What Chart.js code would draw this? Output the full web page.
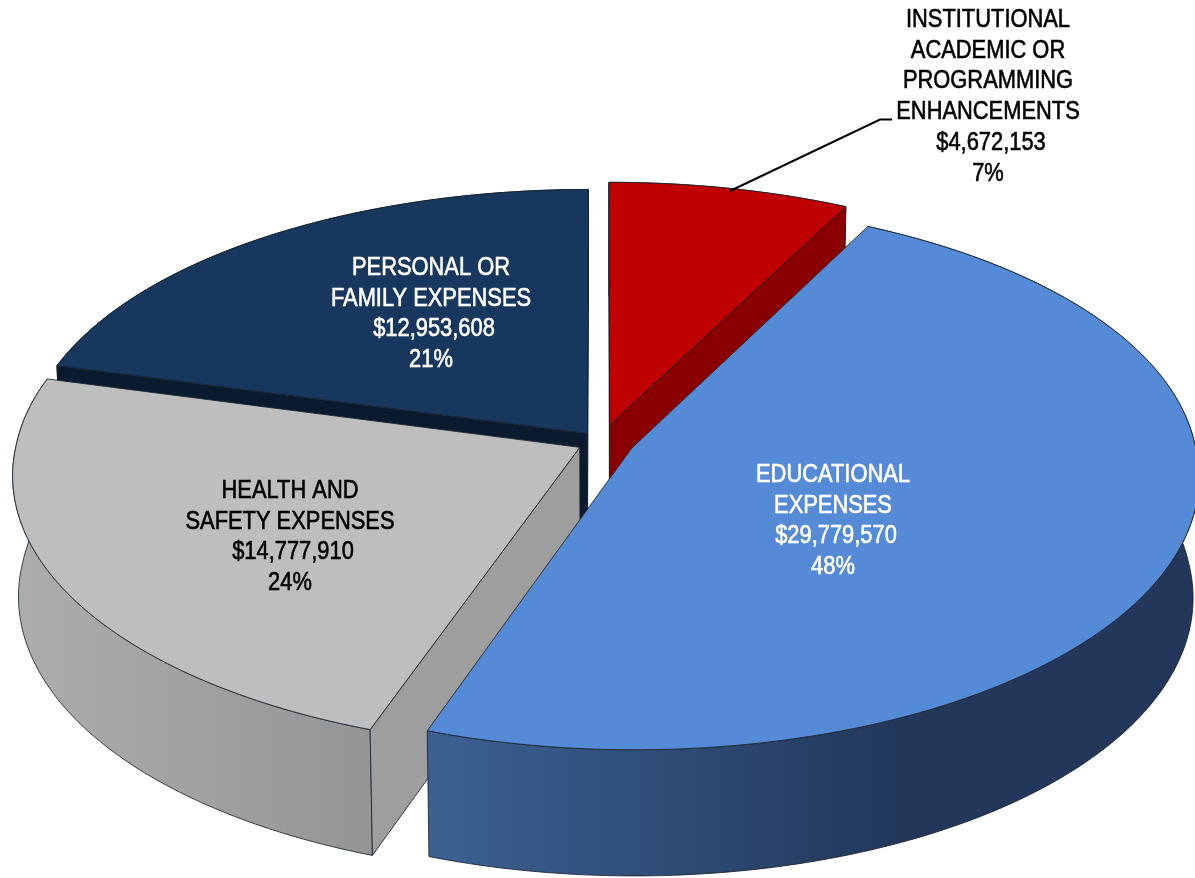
<!DOCTYPE html>
<html>
<head>
<meta charset="utf-8">
<title>Expenses pie</title>
<script src="https://cdn.jsdelivr.net/npm/chart.js@4/dist/chart.umd.min.js"></script>
<style>
    html, body { margin: 0; padding: 0; background: #fff; }
    canvas { display: block; }
</style>
</head>
<body>
<canvas id="pie" width="1195" height="878"></canvas>
<script>
// data
const categories = [
    ["INSTITUTIONAL", "ACADEMIC OR", "PROGRAMMING", "ENHANCEMENTS"],
    ["EDUCATIONAL", "EXPENSES"],
    ["HEALTH AND", "SAFETY EXPENSES"],
    ["PERSONAL OR", "FAMILY EXPENSES"]
];
const amounts = [4672153, 29779570, 14777910, 12953608];
const percentLabels = ["7%", "48%", "24%", "21%"];

// styles
const topColors = ["#C00000", "#558AD6", "#BEBEBE", "#17375E"];
const sideColors = ["#8A0000", "#2F4F7E", "#9E9E9E", "#0A1B30"];
// [left colour, right colour, where the right colour is reached]
const wallGradients = [
    ["#8A0000", "#8A0000", 1],
    ["#3B6193", "#22375A", 0.62],
    ["#ADADAD", "#959595", 1],
    ["#0A1B30", "#0A1B30", 1]
];
const textColors = ["#000", "#fff", "#000", "#fff"];
const sliceOffsets = [28, 25, 18, 17];
const labelCenters = [[988, 20], [833, 475], [290, 491], [431, 268]];
const lineHeight = 30.8;
const textSqueeze = 0.875;
const amountNudge = 3;
const drawOrder = [0, 3, 2, 1];

// view of the pie plane (perspective tilt)
const view = { cx: 601, cy: 442, w: 563, h: 270, p: 0.1, pBack: 0.085, depth: 120, shrink: 0.99 };

function project(u, v, low) {
    const d = 1 + view.p * v;
    const dx = 1 + (v > 0 ? view.pBack : view.p) * v;
    let x = view.cx + view.w * u / dx;
    let y = view.cy - view.h * v / d;
    if (low) {
        x = view.cx + (x - view.cx) * view.shrink;
        y += view.depth * (1 - 0.05 * v);
    }
    return [x, y];
}

function slicePoints(arc, low) {
    const R = arc.outerRadius;
    const off = arc.options.offset / R;
    const mid = (arc.startAngle + arc.endAngle) / 2;
    const ox = off * Math.cos(mid);
    const oy = -off * Math.sin(mid);
    const pts = [];
    const n = Math.ceil((arc.endAngle - arc.startAngle) / (Math.PI / 180));
    for (let i = 0; i <= n; i++) {
        const t = arc.startAngle + (arc.endAngle - arc.startAngle) * i / n;
        pts.push(project(ox + Math.cos(t), oy - Math.sin(t), low));
    }
    return { apex: project(ox, oy, low), rim: pts };
}

function paint(ctx, pts, fill) {
    ctx.beginPath();
    pts.forEach((p, i) => i ? ctx.lineTo(p[0], p[1]) : ctx.moveTo(p[0], p[1]));
    ctx.closePath();
    ctx.fillStyle = fill;
    ctx.fill();
    ctx.stroke();
}

// which way a cut face turns on screen
function turn(apex, rimPoint, lowApex) {
    return (rimPoint[0] - apex[0]) * (lowApex[1] - apex[1]) - (rimPoint[1] - apex[1]) * (lowApex[0] - apex[0]);
}

const pie3d = {
    id: "pie3d",
    beforeDatasetDraw(chart) {
        const ctx = chart.ctx;
        const arcs = chart.getDatasetMeta(0).data;
        ctx.save();
        ctx.lineJoin = "round";
        ctx.lineWidth = 1;
        ctx.strokeStyle = "rgba(25,35,45,0.85)";
        drawOrder.forEach(i => {
            const top = slicePoints(arcs[i], false);
            const low = slicePoints(arcs[i], true);
            const lastTop = top.rim[top.rim.length - 1];
            const lastLow = low.rim[low.rim.length - 1];
            // curved wall first, it is hidden by the cut faces at the back
            const xs = top.rim.map(p => p[0]);
            const grad = ctx.createLinearGradient(Math.min(...xs), 0, Math.max(...xs), 0);
            grad.addColorStop(0, wallGradients[i][0]);
            grad.addColorStop(wallGradients[i][2], wallGradients[i][1]);
            paint(ctx, top.rim.concat(low.rim.slice().reverse()), grad);
            // cut faces only when they look at the camera
            if (turn(top.apex, top.rim[0], low.apex) < 0) {
                paint(ctx, [top.apex, top.rim[0], low.rim[0], low.apex], sideColors[i]);
            }
            if (turn(top.apex, lastTop, low.apex) > 0) {
                paint(ctx, [top.apex, lastTop, lastLow, low.apex], sideColors[i]);
            }
            paint(ctx, [top.apex].concat(top.rim), topColors[i]);
        });
        ctx.restore();
        return false;
    },
    afterDatasetsDraw(chart) {
        const ctx = chart.ctx;
        ctx.save();
        // leader line for the small slice
        ctx.strokeStyle = "#000";
        ctx.lineWidth = 2;
        ctx.beginPath();
        ctx.moveTo(730, 191);
        ctx.lineTo(880, 119.5);
        ctx.lineTo(892, 119.5);
        ctx.stroke();

        ctx.font = "25px 'Liberation Sans', sans-serif";
        ctx.textAlign = "center";
        ctx.textBaseline = "middle";
        ctx.lineWidth = 0.6;
        categories.forEach((lines, i) => {
            const amount = "$" + amounts[i].toLocaleString("en-US");
            const all = lines.concat([amount, percentLabels[i]]);
            ctx.fillStyle = textColors[i];
            ctx.strokeStyle = textColors[i];
            all.forEach((line, j) => {
                const nudge = line === amount ? amountNudge : 0;
                ctx.save();
                ctx.translate(labelCenters[i][0] + nudge, labelCenters[i][1] + j * lineHeight);
                ctx.scale(textSqueeze, 1);
                ctx.fillText(line, 0, 0);
                ctx.strokeText(line, 0, 0);
                ctx.restore();
            });
        });
        ctx.restore();
    }
};

new Chart(document.getElementById("pie"), {
    type: "pie",
    data: {
        labels: categories.map(c => c.join(" ")),
        datasets: [{ data: amounts, backgroundColor: topColors, offset: sliceOffsets }]
    },
    options: {
        responsive: false,
        animation: false,
        rotation: 0,
        plugins: { legend: { display: false }, tooltip: { enabled: false } }
    },
    plugins: [pie3d]
});
</script>
</body>
</html>
